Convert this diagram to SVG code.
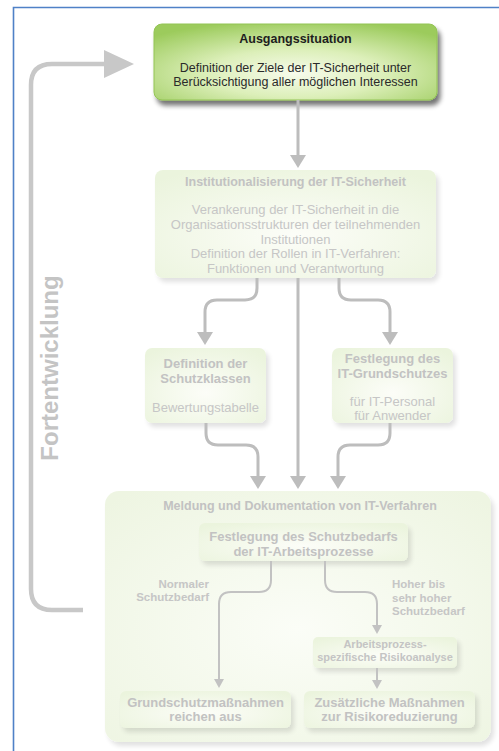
<svg xmlns="http://www.w3.org/2000/svg" width="499" height="751" viewBox="0 0 499 751">
<style>
text{font-family:"Liberation Sans",Arial,sans-serif;text-anchor:middle}
.t0{font-size:12.5px;font-weight:bold;fill:#1e1e1e}
.b0{font-size:12.5px;fill:#2a2a2a}
.ft{font-size:12.5px;font-weight:bold;fill:#c2c2c2}
.fb{font-size:13px;fill:#c6c6c6}
.fb13{font-size:13px;font-weight:bold;fill:#c2c2c2}
.lab{font-size:11.5px;font-weight:bold;fill:#c6c6c6}
.sm{font-size:11px;font-weight:bold;fill:#c4c4c4}
.con{fill:none;stroke:#bdbdbd;stroke-width:3}
.ci{fill:none;stroke:#c2c2c2;stroke-width:2}
.fade{fill:url(#gf)}
</style>
<defs>
<radialGradient id="gg" cx="50%" cy="65%" r="70%">
<stop offset="0" stop-color="#f7fbec"/>
<stop offset="0.45" stop-color="#dcefb9"/>
<stop offset="1" stop-color="#9ccb5c"/>
</radialGradient>
<radialGradient id="gf" cx="50%" cy="60%" r="70%">
<stop offset="0" stop-color="#fcfdf8"/>
<stop offset="1" stop-color="#ebf4dd"/>
</radialGradient>
<radialGradient id="gb" cx="50%" cy="55%" r="70%">
<stop offset="0" stop-color="#fbfdf7"/>
<stop offset="1" stop-color="#eef5e2"/>
</radialGradient>
<filter id="sh" x="-10%" y="-10%" width="125%" height="140%">
<feGaussianBlur in="SourceAlpha" stdDeviation="2.5"/>
<feOffset dx="3" dy="5" result="o"/>
<feComponentTransfer><feFuncA type="linear" slope="0.55"/></feComponentTransfer>
<feMerge><feMergeNode/><feMergeNode in="SourceGraphic"/></feMerge>
</filter>
<filter id="shl" x="-10%" y="-10%" width="125%" height="140%">
<feGaussianBlur in="SourceAlpha" stdDeviation="2.5"/>
<feOffset dx="3" dy="4" result="o"/>
<feComponentTransfer><feFuncA type="linear" slope="0.12"/></feComponentTransfer>
<feMerge><feMergeNode/><feMergeNode in="SourceGraphic"/></feMerge>
</filter>
<marker id="ah" markerUnits="userSpaceOnUse" markerWidth="14" markerHeight="16" refX="0" refY="8" orient="auto" viewBox="0 0 14 16">
<path d="M0,0 L13,8 L0,16 z" fill="#bdbdbd"/>
</marker>
<marker id="ahs" markerUnits="userSpaceOnUse" markerWidth="10" markerHeight="10" refX="0" refY="5" orient="auto" viewBox="0 0 10 10">
<path d="M0,0 L9,5 L0,10 z" fill="#c2c2c2"/>
</marker>
<marker id="ahl" markerUnits="userSpaceOnUse" markerWidth="31" markerHeight="28" refX="0" refY="14" orient="auto" viewBox="0 0 31 28">
<path d="M0,0 L30,14 L0,28 z" fill="#c8c8c8"/>
</marker>
</defs>
<rect x="0" y="0" width="499" height="751" fill="#ffffff"/>
<path d="M13.5,751 V7.5 H499" fill="none" stroke="#4f81c7" stroke-width="1.6"/>

<g id="loop-label">
<text transform="translate(58,368) rotate(-90)" style="font-size:24px;font-weight:bold;fill:#c4c4c4">Fortentwicklung</text>
</g>

<g id="ausgangssituation">
<rect x="154" y="24" width="283" height="76" rx="8" fill="url(#gg)" stroke="#93c454" stroke-width="1" filter="url(#sh)"/>
<text class="t0" x="295.5" y="42.5">Ausgangssituation</text>
<text class="b0" x="295.5" y="71.5">Definition der Ziele der IT-Sicherheit unter</text>
<text class="b0" x="295.5" y="85.5">Berücksichtigung aller möglichen Interessen</text>
</g>

<g id="institutionalisierung">
<rect x="155" y="170" width="281" height="108" rx="8" class="fade" filter="url(#shl)"/>
<text class="ft" x="295.5" y="185.5">Institutionalisierung der IT-Sicherheit</text>
<text class="fb" x="295.5" y="213.5">Verankerung der IT-Sicherheit in die</text>
<text class="fb" x="295.5" y="228.5">Organisationsstrukturen der teilnehmenden</text>
<text class="fb" x="295.5" y="243.5">Institutionen</text>
<text class="fb" x="295.5" y="257.5">Definition der Rollen in IT-Verfahren:</text>
<text class="fb" x="295.5" y="272.5">Funktionen und Verantwortung</text>
</g>

<g id="schutzklassen">
<rect x="145" y="348" width="121" height="75" rx="7" class="fade" filter="url(#shl)"/>
<text class="fb13" x="205.5" y="367.5">Definition der</text>
<text class="fb13" x="205.5" y="382.5">Schutzklassen</text>
<text class="fb" x="205.5" y="411.5">Bewertungstabelle</text>
</g>

<g id="grundschutz">
<rect x="332" y="348" width="121" height="75" rx="7" class="fade" filter="url(#shl)"/>
<text class="fb13" x="392.5" y="362.5">Festlegung des</text>
<text class="fb13" x="392.5" y="377.5">IT-Grundschutzes</text>
<text class="fb" x="392.5" y="406">für IT-Personal</text>
<text class="fb" x="392.5" y="420">für Anwender</text>
</g>

<g id="meldung">
<rect x="105" y="491" width="386" height="251" rx="14" fill="url(#gb)" filter="url(#shl)"/>
<text class="ft" x="300" y="509.5">Meldung und Dokumentation von IT-Verfahren</text>
</g>

<g id="schutzbedarf">
<rect x="199" y="523" width="209" height="38" rx="6" class="fade" filter="url(#shl)"/>
<text class="fb13" x="303.5" y="540.5">Festlegung des Schutzbedarfs</text>
<text class="fb13" x="303.5" y="555.5">der IT-Arbeitsprozesse</text>
</g>

<g id="labels">
<text class="lab" x="209" y="588" style="text-anchor:end">Normaler</text>
<text class="lab" x="209" y="601" style="text-anchor:end">Schutzbedarf</text>
<text class="lab" x="392" y="588" style="text-anchor:start">Hoher bis</text>
<text class="lab" x="392" y="602" style="text-anchor:start">sehr hoher</text>
<text class="lab" x="392" y="615" style="text-anchor:start">Schutzbedarf</text>
</g>

<g id="risikoanalyse">
<rect x="313" y="637" width="144" height="31" rx="5" class="fade" filter="url(#shl)"/>
<text class="sm" x="385" y="648">Arbeitsprozess-</text>
<text class="sm" x="385" y="661">spezifische Risikoanalyse</text>
</g>

<g id="grundschutzmassnahmen">
<rect x="120" y="691" width="171" height="37" rx="6" class="fade" filter="url(#shl)"/>
<text class="fb13" x="205.5" y="706.5">Grundschutzmaßnahmen</text>
<text class="fb13" x="205.5" y="720.5">reichen aus</text>
</g>

<g id="zusaetzliche-massnahmen">
<rect x="304" y="691" width="171" height="37" rx="6" class="fade" filter="url(#shl)"/>
<text class="fb13" x="389.5" y="706.5">Zusätzliche Maßnahmen</text>
<text class="fb13" x="389.5" y="720.5">zur Risikoreduzierung</text>
</g>

<g id="connectors">
<path class="con" d="M298,100 V155" marker-end="url(#ah)"/>
<path class="con" d="M257,278 V288 Q257,300 245,300 H217 Q205,300 205,312 V332" marker-end="url(#ah)"/>
<path class="con" d="M339,278 V288 Q339,300 351,300 H378 Q390,300 390,312 V332" marker-end="url(#ah)"/>
<path class="con" d="M298,278 V476" marker-end="url(#ah)"/>
<path class="con" d="M206,423 V433 Q206,445 218,445 H246 Q258,445 258,457 V476" marker-end="url(#ah)"/>
<path class="con" d="M390,423 V433 Q390,445 378,445 H350 Q338,445 338,457 V476" marker-end="url(#ah)"/>
<path class="ci" d="M271,561 V580 Q271,592 259,592 H231 Q219,592 219,604 V679" marker-end="url(#ahs)"/>
<path class="ci" d="M325,561 V580 Q325,592 337,592 H365 Q377,592 377,604 V625" marker-end="url(#ahs)"/>
<path class="ci" d="M377,668 V680" marker-end="url(#ahs)"/>
<path d="M83,610 H52 Q31,610 31,589 V85 Q31,64 52,64 H104" fill="none" stroke="#c8c8c8" stroke-width="4.5" marker-end="url(#ahl)"/>
</g>
</svg>
